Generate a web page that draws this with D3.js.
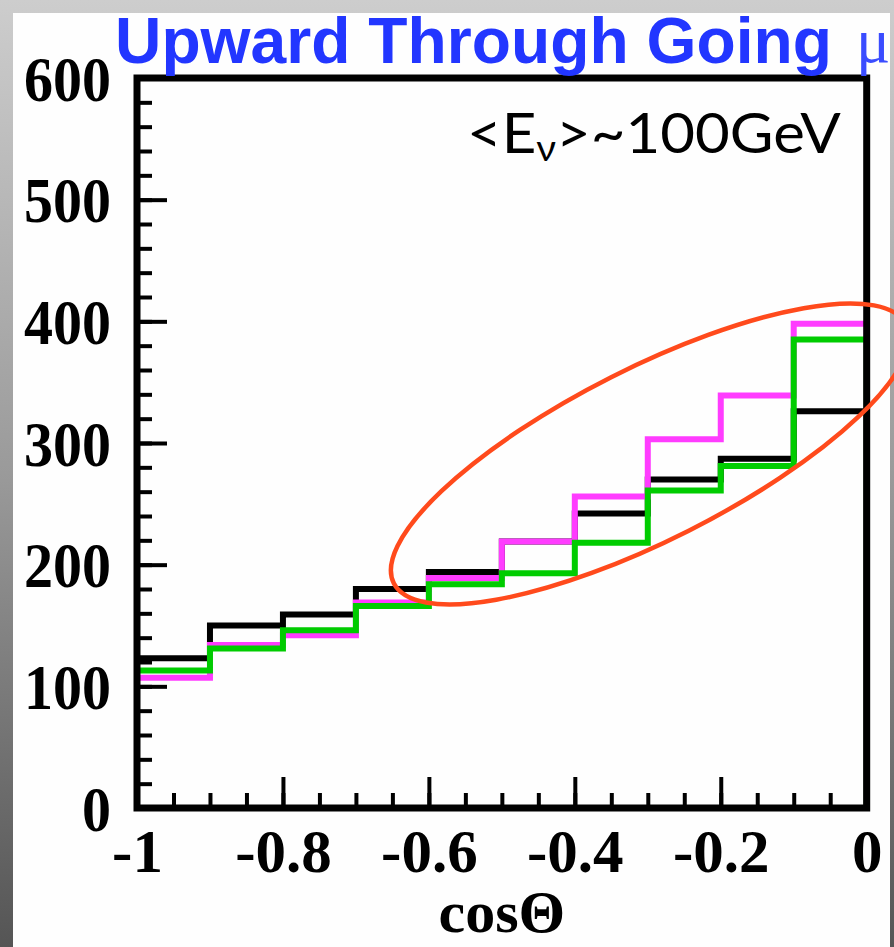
<!DOCTYPE html>
<html>
<head>
<meta charset="utf-8">
<script src="https://cdn.jsdelivr.net/npm/d3@7"></script>
<style>
  html, body { margin: 0; padding: 0; background: #fff; }
  svg { display: block; }
</style>
</head>
<body>
<svg id="chart" width="894" height="947"></svg>
<script>
// Histogram bin edges in cos(Theta), 10 bins of width 0.1
const binEdges = [-1, -0.9, -0.8, -0.7, -0.6, -0.5, -0.4, -0.3, -0.2, -0.1, 0];

// Event counts per bin, one array per histogram
const blackCounts   = [123, 150, 159, 180, 194, 219, 242, 270, 287, 326];
const magentaCounts = [107, 134, 142, 169, 189, 219, 256, 303, 339, 398];
const greenCounts   = [113, 131, 146, 166, 184, 193, 218, 261, 281, 385];

// Axis ticks and labels
const xTickValues = [-1, -0.8, -0.6, -0.4, -0.2, 0];
const xTickLabels = ["-1", "-0.8", "-0.6", "-0.4", "-0.2", "0"];
const yTickValues = [0, 100, 200, 300, 400, 500, 600];
const yTickLabels = ["0", "100", "200", "300", "400", "500", "600"];

const titleText = "Upward Through Going";
const titleSymbol = "\u03BC";
const xAxisTitle = "cos\u0398";

const svg = d3.select("#chart");
const W = 894, H = 947;

// Background: grey gradient behind a white panel
const defs = svg.append("defs");
const grad = defs.append("linearGradient").attr("id", "bg").attr("x1", 0).attr("y1", 0).attr("x2", 0).attr("y2", 1);
grad.append("stop").attr("offset", "0").attr("stop-color", "#cdcdcd");
grad.append("stop").attr("offset", "0.5").attr("stop-color", "#9a9a9a");
grad.append("stop").attr("offset", "1").attr("stop-color", "#555555");
svg.append("rect").attr("width", W).attr("height", H).attr("fill", "url(#bg)");
svg.append("rect").attr("x", 13).attr("y", 13).attr("width", 877).attr("height", H - 13).attr("fill", "#fefefe");

// Scales
const x = d3.scaleLinear().domain([-1, 0]).range([137, 866.7]);
const y = d3.scaleLinear().domain([0, 600]).range([808, 78]);

// Histogram outlines (step curves dropping to zero at both ends)
const stepLine = d3.line()
  .x(d => x(d[0]))
  .y(d => y(d[1]))
  .curve(d3.curveStepAfter);

function histPoints(counts) {
  const pts = [[binEdges[0], 0]];
  counts.forEach((c, i) => pts.push([binEdges[i], c]));
  pts.push([binEdges[binEdges.length - 1], counts[counts.length - 1]]);
  pts.push([binEdges[binEdges.length - 1], 0]);
  return pts;
}

const series = [
  { counts: blackCounts, color: "#000000" },
  { counts: magentaCounts, color: "#ff3cff" },
  { counts: greenCounts, color: "#00cc00" }
];

svg.append("g").selectAll("path")
  .data(series)
  .join("path")
  .attr("d", d => stepLine(histPoints(d.counts)))
  .attr("fill", "none")
  .attr("stroke", d => d.color)
  .attr("stroke-width", 6)
  .attr("stroke-linejoin", "miter");

// Frame
svg.append("rect")
  .attr("x", x(-1)).attr("y", y(600))
  .attr("width", x(0) - x(-1)).attr("height", y(0) - y(600))
  .attr("fill", "none").attr("stroke", "#000").attr("stroke-width", 7);

const labelFont = "'Liberation Serif', 'Times New Roman', serif";

function styleTicks(g) {
  g.select(".domain").remove();
  g.selectAll(".tick line").attr("stroke", "#000").attr("stroke-width", 4);
}

// Bottom axis: minor ticks, then major ticks with labels
svg.append("g")
  .attr("transform", `translate(0,${y(0)})`)
  .call(d3.axisBottom(x).tickValues(x.ticks(20)).tickSize(-15).tickFormat(""))
  .call(styleTicks);

svg.append("g")
  .attr("transform", `translate(0,${y(0)})`)
  .call(d3.axisBottom(x).tickValues(xTickValues).tickSize(-31).tickPadding(21)
    .tickFormat((d, i) => xTickLabels[i]))
  .call(styleTicks)
  .call(g => g.selectAll("text")
    .attr("fill", "#000")
    .attr("font-family", labelFont)
    .attr("font-weight", "bold")
    .attr("font-size", 61));

// Left axis: minor ticks, then major ticks with labels
svg.append("g")
  .attr("transform", `translate(${x(-1)},0)`)
  .call(d3.axisLeft(y).tickValues(y.ticks(30)).tickSize(-15).tickFormat(""))
  .call(styleTicks);

svg.append("g")
  .attr("transform", `translate(${x(-1)},0)`)
  .call(d3.axisLeft(y).tickValues(yTickValues).tickSize(-30).tickPadding(26)
    .tickFormat((d, i) => yTickLabels[i]))
  .call(styleTicks)
  .call(g => g.selectAll("text")
    .attr("fill", "#000")
    .attr("font-family", labelFont)
    .attr("font-weight", "bold")
    .attr("font-size", 63)
    .attr("dy", "0.35em")
    .attr("textLength", d => yTickLabels[yTickValues.indexOf(d)].length * 29)
    .attr("lengthAdjust", "spacingAndGlyphs"));

// X axis title
svg.append("text")
  .attr("x", (x(-1) + x(0)) / 2)
  .attr("y", 932)
  .attr("text-anchor", "middle")
  .attr("font-family", labelFont)
  .attr("font-weight", "bold")
  .attr("font-size", 60)
  .attr("fill", "#000")
  .text(xAxisTitle);

// Title
svg.append("text")
  .attr("x", 115)
  .attr("y", 63)
  .attr("font-family", "'Liberation Sans', Arial, sans-serif")
  .attr("font-weight", "bold")
  .attr("font-size", 64)
  .attr("fill", "#2236ff")
  .attr("textLength", 717)
  .attr("lengthAdjust", "spacingAndGlyphs")
  .text(titleText);

svg.append("text")
  .attr("x", 856)
  .attr("y", 62)
  .attr("font-family", labelFont)
  .attr("font-size", 64)
  .attr("fill", "#3a4cff")
  .text(titleSymbol);

// Mean neutrino energy annotation
const energy = svg.append("text")
  .attr("x", 0)
  .attr("y", 153)
  .attr("font-family", "Lato, 'Open Sans', sans-serif")
  .attr("font-size", 56)
  .attr("fill", "#000");
energy.append("tspan").text("<E");
energy.append("tspan").attr("font-size", 36).attr("dy", 8).text("\u03BD");
energy.append("tspan").attr("dy", -8).text(">~100GeV");
const eb = energy.node().getBBox();
const targetLeft = 467, targetRight = 841;
const sx = (targetRight - targetLeft) / eb.width;
energy.attr("transform", `translate(${targetLeft - eb.x * sx},0) scale(${sx},1)`);

// Highlight ellipse around the high cos(Theta) bins
const ringCenter = [-0.297, 291];
svg.append("ellipse")
  .attr("cx", 0).attr("cy", 0)
  .attr("rx", 287).attr("ry", 86)
  .attr("transform", `translate(${x(ringCenter[0])},${y(ringCenter[1])}) rotate(-26.8)`)
  .attr("fill", "none")
  .attr("stroke", "#ff4a1c")
  .attr("stroke-width", 4.5);
</script>
</body>
</html>
